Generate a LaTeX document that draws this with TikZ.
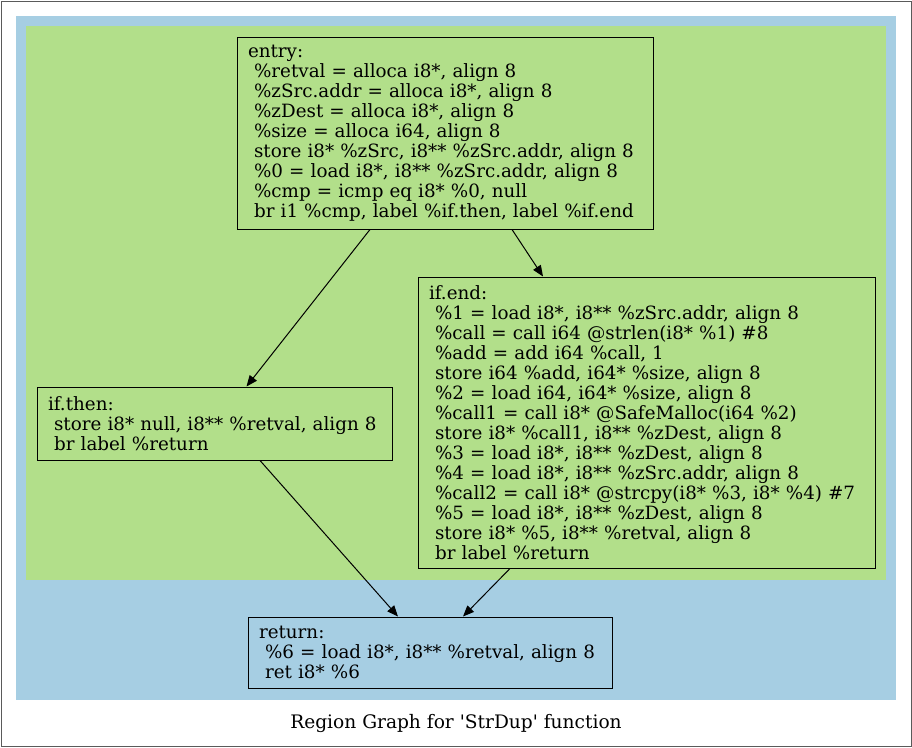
\documentclass[tikz,border=0pt]{standalone}
\usepackage{fontspec}
\setmainfont{DejaVu Serif}
\usetikzlibrary{arrows.meta,positioning}
\definecolor{regblue}{HTML}{A6CEE3}
\definecolor{reggreen}{HTML}{B2DF8A}
\definecolor{framegray}{RGB}{90,90,90}

\begin{document}
\begin{tikzpicture}[x=1pt,y=-1pt,
  bb/.style={draw,line width=1pt,align=left,inner xsep=0pt,inner ysep=0pt,font=\fontsize{18.3}{20}\selectfont},
  edge/.style={-{Triangle[length=11pt,width=9pt]},line width=1pt}]
  \useasboundingbox (0,0) rectangle (912,747);
  \draw[framegray,line width=1pt] (1,1) rectangle (911,746);
  \fill[regblue] (16,16) rectangle (896,700);
  \fill[reggreen] (26,26) rectangle (886,580);
  \node[bb,fill=reggreen,minimum width=416pt,minimum height=192pt,text width=394pt] (entry) at (445,133) {entry:\\
    \ \%retval = alloca i8*, align 8\\
    \ \%zSrc.addr = alloca i8*, align 8\\
    \ \%zDest = alloca i8*, align 8\\
    \ \%size = alloca i64, align 8\\
    \ store i8* \%zSrc, i8** \%zSrc.addr, align 8\\
    \ \%0 = load i8*, i8** \%zSrc.addr, align 8\\
    \ \%cmp = icmp eq i8* \%0, null\\
    \ br i1 \%cmp, label \%if.then, label \%if.end};
  \node[bb,fill=reggreen,minimum width=457pt,minimum height=291pt,text width=435pt] (ifend) at (646.5,422.5) {if.end:\\
    \ \%1 = load i8*, i8** \%zSrc.addr, align 8\\
    \ \%call = call i64 @strlen(i8* \%1) \#8\\
    \ \%add = add i64 \%call, 1\\
    \ store i64 \%add, i64* \%size, align 8\\
    \ \%2 = load i64, i64* \%size, align 8\\
    \ \%call1 = call i8* @SafeMalloc(i64 \%2)\\
    \ store i8* \%call1, i8** \%zDest, align 8\\
    \ \%3 = load i8*, i8** \%zDest, align 8\\
    \ \%4 = load i8*, i8** \%zSrc.addr, align 8\\
    \ \%call2 = call i8* @strcpy(i8* \%3, i8* \%4) \#7\\
    \ \%5 = load i8*, i8** \%zDest, align 8\\
    \ store i8* \%5, i8** \%retval, align 8\\
    \ br label \%return};
  \node[bb,fill=reggreen,minimum width=355pt,minimum height=73pt,text width=333pt] (ifthen) at (214.5,423.5) {if.then:\\
    \ store i8* null, i8** \%retval, align 8\\
    \ br label \%return};
  \node[bb,fill=regblue,minimum width=364pt,minimum height=71pt,text width=342pt] (ret) at (430,652.5) {return:\\
    \ \%6 = load i8*, i8** \%retval, align 8\\
    \ ret i8* \%6};
  \node[font=\fontsize{18.6}{20}\selectfont] (caption) at (456,723) {Region Graph for \textquotesingle StrDup\textquotesingle\ function};
  \draw[edge] ([xshift=-75pt]entry.south) -- ([xshift=32pt]ifthen.north);
  \draw[edge] ([xshift=67pt]entry.south) -- ([xshift=-103.5pt]ifend.north);
  \draw[edge] ([xshift=45.5pt]ifthen.south) -- ([xshift=-32pt]ret.north);
  \draw[edge] ([xshift=-136.5pt]ifend.south) -- ([xshift=33pt]ret.north);
\end{tikzpicture}
\end{document}
